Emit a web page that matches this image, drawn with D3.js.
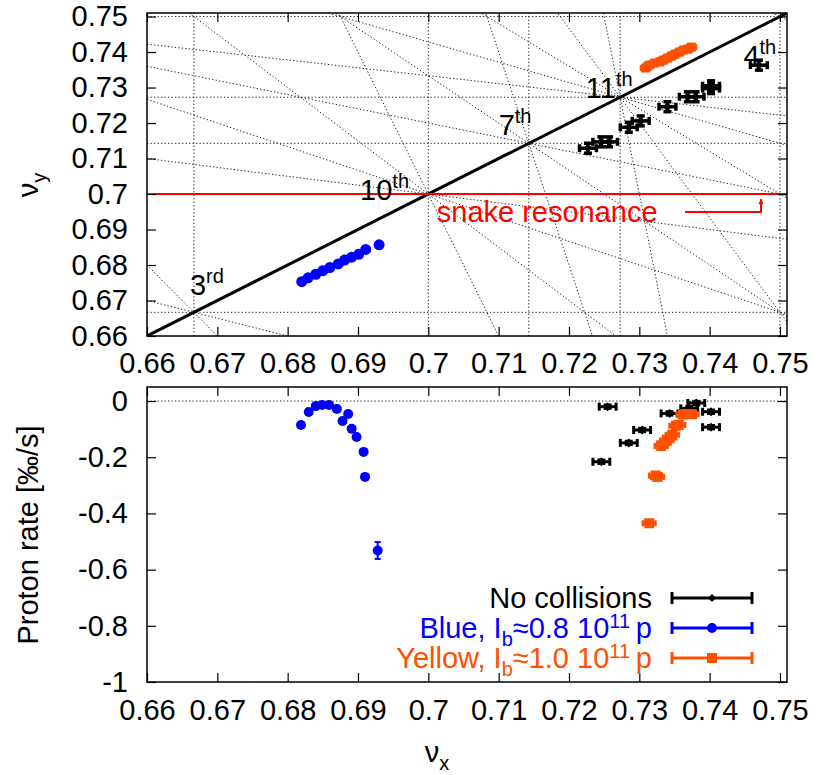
<!DOCTYPE html>
<html>
<head>
<meta charset="utf-8">
<script src="https://cdn.jsdelivr.net/npm/d3@7"></script>
<style>
  body { margin: 0; background: #fff; }
  svg { font-family: "Liberation Sans", Arial, sans-serif; }
  .tick line { stroke: #000; stroke-width: 1.2; }
  .tick text { font-size: 29px; fill: #000; }
</style>
</head>
<body>
<svg id="chart" width="816" height="775"></svg>
<script>
// ---- data ----
var xTicks = [0.66, 0.67, 0.68, 0.69, 0.70, 0.71, 0.72, 0.73, 0.74, 0.75];
var nuyTicks = [0.66, 0.67, 0.68, 0.69, 0.70, 0.71, 0.72, 0.73, 0.74, 0.75];
var rateTicks = [0, -0.2, -0.4, -0.6, -0.8, -1];

// top panel: working points
var blueNux = [0.6820, 0.6829, 0.6840, 0.6850, 0.6860, 0.6872, 0.6881, 0.6891, 0.6901, 0.6911, 0.6930];
var blueNuy = [0.6753, 0.6764, 0.6774, 0.6784, 0.6793, 0.6803, 0.6814, 0.6822, 0.6830, 0.6844, 0.6857];

var blackNux = [0.7227, 0.7246, 0.7257, 0.7285, 0.7302, 0.7340, 0.7369, 0.7380, 0.7402, 0.7402, 0.7470];
var blackNuy = [0.7129, 0.7147, 0.7147, 0.7188, 0.7206, 0.7246, 0.7274, 0.7274, 0.7305, 0.7297, 0.7363];

var yellowNux = [0.7309, 0.7314, 0.7322, 0.7329, 0.7334, 0.7340, 0.7346, 0.7351, 0.7357, 0.7363, 0.7369, 0.7374];
var yellowNuy = [0.7355, 0.7363, 0.7369, 0.7372, 0.7377, 0.7383, 0.7389, 0.7394, 0.7400, 0.7406, 0.7408, 0.7414];

// bottom panel: proton loss rate
var blueRateNux = [0.6819, 0.6830, 0.6840, 0.6849, 0.6859, 0.6870, 0.6878, 0.6886, 0.6891, 0.6898, 0.6908, 0.6910, 0.6928];
var blueRate    = [-0.085, -0.039, -0.018, -0.014, -0.014, -0.028, -0.071, -0.046, -0.099, -0.128, -0.181, -0.27, -0.532];
var blueRateErr = [0.004, 0.004, 0.004, 0.004, 0.004, 0.004, 0.004, 0.004, 0.004, 0.006, 0.006, 0.008, 0.03];

var blackRateNux = [0.7246, 0.7255, 0.7285, 0.7304, 0.7343, 0.7371, 0.7381, 0.7402, 0.7402];
var blackRate    = [-0.216, -0.020, -0.149, -0.103, -0.044, -0.026, -0.007, -0.038, -0.093];

var yellowRateNux = [0.7314, 0.7323, 0.7326, 0.7331, 0.7335, 0.7339, 0.7343, 0.7347, 0.7352, 0.7356, 0.7362, 0.7366, 0.7370, 0.7375];
var yellowRate    = [-0.435, -0.265, -0.27, -0.16, -0.15, -0.14, -0.13, -0.12, -0.088, -0.085, -0.048, -0.046, -0.046, -0.047];

// resonance lines m*nux + n*nuy = p
var resonances = [
  [3,0,2],[0,3,2],[2,1,2],[1,2,2],
  [4,0,3],[0,4,3],[2,2,3],
  [7,0,5],[0,7,5],[2,5,5],[4,3,5],[6,1,5],
  [10,0,7],[2,8,7],[4,6,7],[6,4,7],[8,2,7],
  [11,0,8],[0,11,8],[2,9,8],[4,7,8],[6,5,8],[8,3,8],[10,1,8]
];

var orderText = ['3', '10', '7', '11', '4'];
var orderSup  = ['rd', 'th', 'th', 'th', 'th'];
var orderNux  = [0.6661, 0.6903, 0.7100, 0.7224, 0.7448];
var orderNuy  = [0.6715, 0.6983, 0.7166, 0.7270, 0.7361];

var snakeTune = 0.70;

var legendNames = ['No collisions', 'Blue', 'Yellow'];
var legIntensity = [null, '0.8', '1.0'];

// ---- layout ----
var svg = d3.select('#chart');
var fs = 29, fsSmall = 20;
var blue = '#0000ff', orange = '#ff5000', red = '#ff0000';

var x = d3.scaleLinear().domain([0.66, 0.751]).range([147, 787]);
var yTop = d3.scaleLinear().domain([0.66, 0.751]).range([336, 13]);
var yBot = d3.scaleLinear().domain([-1, 0.05]).range([682, 387]);

svg.append('defs').append('clipPath').attr('id', 'clipTop')
  .append('rect').attr('x', 147).attr('y', 13).attr('width', 640).attr('height', 323);

function drawFrame(yScale, yT, fmtY, padX){
  var top = yScale.range()[1], bottom = yScale.range()[0];

  svg.append('g').attr('transform', 'translate(0,' + bottom + ')')
    .call(d3.axisBottom(x).tickValues(xTicks).tickSize(-9).tickPadding(padX)
      .tickFormat(function(d){ return String(d); }))
    .call(function(g){ g.select('.domain').remove(); });
  svg.append('g').attr('transform', 'translate(0,' + top + ')')
    .call(d3.axisTop(x).tickValues(xTicks).tickSize(-9).tickFormat(''))
    .call(function(g){ g.select('.domain').remove(); });
  svg.append('g').attr('transform', 'translate(147,0)')
    .call(d3.axisLeft(yScale).tickValues(yT).tickSize(-9).tickPadding(19).tickFormat(fmtY))
    .call(function(g){ g.select('.domain').remove(); });
  svg.append('g').attr('transform', 'translate(787,0)')
    .call(d3.axisRight(yScale).tickValues(yT).tickSize(-9).tickFormat(''))
    .call(function(g){ g.select('.domain').remove(); });
}

// ---- top panel ----
var plotTop = svg.append('g').attr('clip-path', 'url(#clipTop)');

resonances.forEach(function(r){
  var m = r[0], n = r[1], p = r[2];
  var x0, x1, y0, y1;
  if(n === 0){
    x0 = x1 = p / m;
    y0 = 0.66; y1 = 0.751;
  } else {
    x0 = 0.66; x1 = 0.751;
    y0 = (p - m * x0) / n; y1 = (p - m * x1) / n;
  }
  plotTop.append('line')
    .attr('x1', x(x0)).attr('y1', yTop(y0))
    .attr('x2', x(x1)).attr('y2', yTop(y1))
    .attr('stroke', '#222').attr('stroke-width', 1)
    .attr('stroke-dasharray', '1.3,2.2');
});

// coupling diagonal nux = nuy
plotTop.append('line')
  .attr('x1', x(0.66)).attr('y1', yTop(0.66))
  .attr('x2', x(0.751)).attr('y2', yTop(0.751))
  .attr('stroke', '#000').attr('stroke-width', 3);

// snake resonance
plotTop.append('line')
  .attr('x1', x(0.66)).attr('x2', x(0.751))
  .attr('y1', yTop(snakeTune)).attr('y2', yTop(snakeTune))
  .attr('stroke', red).attr('stroke-width', 2);

svg.append('text')
  .attr('x', x(0.7012)).attr('y', yTop(0.6921))
  .attr('fill', red).attr('font-size', fs)
  .text('snake resonance');

var arrow = d3.line()([
  [x(0.7365), yTop(0.6949)], [x(0.7473), yTop(0.6949)], [x(0.7473), yTop(0.6985)]
]);
svg.append('path').attr('d', arrow).attr('fill', 'none')
  .attr('stroke', red).attr('stroke-width', 2);
svg.append('path')
  .attr('d', 'M' + (x(0.7473) - 2.5) + ',' + (yTop(0.6985) + 5) + 'L' + x(0.7473) + ',' + (yTop(0.6985) - 1) + 'L' + (x(0.7473) + 2.5) + ',' + (yTop(0.6985) + 5) + 'Z')
  .attr('fill', red);

// resonance order labels
orderText.forEach(function(t, i){
  var lab = svg.append('text')
    .attr('x', x(orderNux[i])).attr('y', yTop(orderNuy[i]))
    .attr('font-size', fs).attr('fill', '#000');
  lab.append('tspan').text(t);
  lab.append('tspan').attr('dy', -12).attr('font-size', fsSmall).text(orderSup[i]);
});

function errorBars(g, xs, ys, yScale, ex, ey, color, sw, cap){
  xs.forEach(function(d, i){
    var cx = x(d), cy = yScale(ys[i]);
    var exv = Array.isArray(ex) ? ex[i] : ex;
    var eyv = Array.isArray(ey) ? ey[i] : ey;
    if(exv > 0){
      var xl = x(d - exv), xr = x(d + exv);
      g.append('line').attr('x1', xl).attr('x2', xr).attr('y1', cy).attr('y2', cy)
        .attr('stroke', color).attr('stroke-width', sw);
      [xl, xr].forEach(function(xx){
        g.append('line').attr('x1', xx).attr('x2', xx).attr('y1', cy - cap).attr('y2', cy + cap)
          .attr('stroke', color).attr('stroke-width', sw);
      });
    }
    if(eyv > 0){
      var yt = yScale(ys[i] + eyv), yb = yScale(ys[i] - eyv);
      g.append('line').attr('x1', cx).attr('x2', cx).attr('y1', yt).attr('y2', yb)
        .attr('stroke', color).attr('stroke-width', sw);
      [yt, yb].forEach(function(yy){
        g.append('line').attr('x1', cx - cap).attr('x2', cx + cap).attr('y1', yy).attr('y2', yy)
          .attr('stroke', color).attr('stroke-width', sw);
      });
    }
  });
}

function diamonds(g, xs, ys, yScale, r, color){
  g.selectAll(null).data(xs).enter().append('path')
    .attr('d', function(d, i){
      var cx = x(d), cy = yScale(ys[i]);
      return 'M' + cx + ',' + (cy - r) + 'L' + (cx + r) + ',' + cy + 'L' + cx + ',' + (cy + r) + 'L' + (cx - r) + ',' + cy + 'Z';
    })
    .attr('fill', color);
}

function squares(g, xs, ys, yScale, s, color){
  g.selectAll(null).data(xs).enter().append('rect')
    .attr('x', function(d){ return x(d) - s / 2; })
    .attr('y', function(d, i){ return yScale(ys[i]) - s / 2; })
    .attr('width', s).attr('height', s).attr('fill', color);
}

function circles(g, xs, ys, yScale, r, color){
  g.selectAll(null).data(xs).enter().append('circle')
    .attr('cx', function(d){ return x(d); })
    .attr('cy', function(d, i){ return yScale(ys[i]); })
    .attr('r', r).attr('fill', color);
}

var ptsTop = svg.append('g');
errorBars(ptsTop, blackNux, blackNuy, yTop, 0.0012, 0.0014, '#000', 3.5, 4);
diamonds(ptsTop, blackNux, blackNuy, yTop, 4.5, '#000');
errorBars(ptsTop, yellowNux, yellowNuy, yTop, 0.0007, 0.0006, orange, 2, 3);
squares(ptsTop, yellowNux, yellowNuy, yTop, 9, orange);
circles(ptsTop, blueNux, blueNuy, yTop, 5.5, blue);

drawFrame(yTop, nuyTicks, function(d){ return String(d); }, 16);
svg.append('rect').attr('x', 147).attr('y', 13).attr('width', 640).attr('height', 323)
  .attr('fill', 'none').attr('stroke', '#000').attr('stroke-width', 1.5);

// ---- bottom panel ----
svg.append('line')
  .attr('x1', x(0.66)).attr('x2', x(0.751)).attr('y1', yBot(0)).attr('y2', yBot(0))
  .attr('stroke', '#222').attr('stroke-width', 1).attr('stroke-dasharray', '1.3,2.2');

var ptsBot = svg.append('g');
errorBars(ptsBot, blackRateNux, blackRate, yBot, 0.0012, 0.006, '#000', 3, 4);
diamonds(ptsBot, blackRateNux, blackRate, yBot, 4.5, '#000');
errorBars(ptsBot, yellowRateNux, yellowRate, yBot, 0.0009, 0.01, orange, 2.5, 3);
squares(ptsBot, yellowRateNux, yellowRate, yBot, 10, orange);
errorBars(ptsBot, blueRateNux, blueRate, yBot, 0, blueRateErr, blue, 2, 3);
circles(ptsBot, blueRateNux, blueRate, yBot, 5, blue);

drawFrame(yBot, rateTicks, function(d){ return String(d); }, 17);
svg.append('rect').attr('x', 147).attr('y', 387).attr('width', 640).attr('height', 295)
  .attr('fill', 'none').attr('stroke', '#000').attr('stroke-width', 1.5);

// ---- legend ----
var legColors = ['#000', blue, orange];
legendNames.forEach(function(name, i){
  var ly = 598 + i * 30;
  var t = svg.append('text').attr('x', 652).attr('y', ly + 10)
    .attr('text-anchor', 'end').attr('font-size', fs).attr('fill', legColors[i]);
  if(legIntensity[i] === null){
    t.text(name);
  } else {
    t.append('tspan').text(name + ', I');
    t.append('tspan').attr('dy', 8).attr('font-size', fsSmall).text('b');
    t.append('tspan').attr('dy', -8).text('\u2248' + legIntensity[i] + ' 10');
    t.append('tspan').attr('dy', -10).attr('font-size', fsSmall).text('11');
    t.append('tspan').attr('dy', 10).text('\u2009p');
  }
  var lg = svg.append('g');
  var sw = 3;
  lg.append('line').attr('x1', 672).attr('x2', 752).attr('y1', ly).attr('y2', ly)
    .attr('stroke', legColors[i]).attr('stroke-width', sw);
  [672, 752].forEach(function(xx){
    lg.append('line').attr('x1', xx).attr('x2', xx).attr('y1', ly - 6).attr('y2', ly + 6)
      .attr('stroke', legColors[i]).attr('stroke-width', sw);
  });
  if(i === 0){
    lg.append('path').attr('d', 'M712,' + (ly - 4) + 'L716,' + ly + 'L712,' + (ly + 4) + 'L708,' + ly + 'Z').attr('fill', '#000');
  } else if(i === 1){
    lg.append('circle').attr('cx', 712).attr('cy', ly).attr('r', 5).attr('fill', blue);
  } else {
    lg.append('rect').attr('x', 707).attr('y', ly - 5).attr('width', 10).attr('height', 10).attr('fill', orange);
  }
});

// ---- axis titles ----
var ny = svg.append('text').attr('transform', 'translate(38,185) rotate(-90)')
  .attr('text-anchor', 'middle').attr('font-size', fs);
ny.append('tspan').text('\u03bd');
ny.append('tspan').attr('dy', 8).attr('font-size', fsSmall).text('y');

svg.append('text').attr('transform', 'translate(38,535) rotate(-90)')
  .attr('text-anchor', 'middle').attr('font-size', fs)
  .text('Proton rate [\u2030/s]');

var nx = svg.append('text').attr('x', 437).attr('y', 762)
  .attr('text-anchor', 'middle').attr('font-size', fs);
nx.append('tspan').text('\u03bd');
nx.append('tspan').attr('dy', 8).attr('font-size', fsSmall).text('x');
</script>
</body>
</html>
